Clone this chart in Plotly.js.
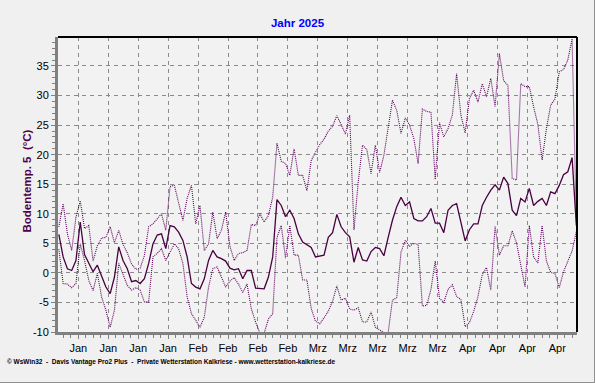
<!DOCTYPE html>
<html>
<head>
<meta charset="utf-8">
<script src="https://cdn.plot.ly/plotly-3.0.1.min.js"></script>
<style>
html,body{margin:0;padding:0;background:#f0f0f0;}
#wrap{position:relative;width:595px;height:383px;}
#chart{width:595px;height:383px;}
#frame{position:absolute;left:0;top:0;width:594px;height:382px;border-right:1px solid #909090;border-bottom:1px solid #909090;pointer-events:none;}
</style>
</head>
<body>
<div id="wrap"><div id="chart"></div><div id="frame"></div></div>
<script>
// Daily soil temperature at 5 cm, 1 Jan 2025 .. 2 May 2025
const startDate = '2025-01-01';
const meanTemp = [
 6.5, 2.7, 0.7, 0.4, 2.1, 8.6, 3.1, 1.6, 0.2, 1.3,
 -0.7, -2.4, -3.5, -0.7, 4.4, 2.1, 0.7, -1.5, -1.3, -1.8,
 -1.0, 1.6, 4.9, 6.4, 6.6, 4.1, 8.0, 7.8, 6.9, 5.5,
 2.7, -1.8, -2.4, -2.7, -1.0, 2.1, 3.8, 2.7, 2.4, 2.0,
 0.8, 0.5, 0.7, -1.0, 0.4, 0.4, -2.6, -2.7, -2.7, -0.7,
 2.7, 12.4, 11.4, 9.5, 10.6, 9.2, 6.6, 5.2, 4.7, 4.3,
 2.7, 2.9, 3.0, 6.0, 6.8, 9.9, 7.8, 6.8, 6.1, 1.8,
 4.3, 2.2, 2.0, 3.6, 4.3, 4.1, 2.9, 6.0, 8.9, 11.2,
 12.8, 11.4, 12.0, 9.2, 8.8, 8.8, 9.5, 10.9, 8.4, 8.4,
 6.8, 10.6, 11.4, 11.7, 8.6, 5.4, 7.3, 8.3, 8.3, 11.4,
 12.8, 14.0, 14.9, 14.0, 16.2, 15.1, 10.6, 9.7, 12.6, 12.0,
 14.3, 11.4, 12.1, 12.6, 11.4, 13.7, 13.4, 14.8, 16.6, 17.1,
 19.5, 8.0
];
const maxTemp = [
 7.8, 11.7, 6.6, 3.8, 9.4, 12.2, 7.5, 8.0, 2.0, 4.6,
 5.9, 6.0, 7.8, 5.1, 7.2, 4.8, 3.4, 1.5, 0.6, 0.8,
 2.9, 7.8, 8.3, 9.2, 10.0, 7.2, 14.6, 14.8, 11.7, 8.9,
 12.6, 14.8, 8.3, 11.4, 3.8, 4.9, 10.3, 5.8, 7.2, 10.3,
 4.5, 2.1, 3.3, 3.4, 3.8, 8.2, 8.0, 10.0, 8.6, 9.7,
 12.8, 21.9, 18.9, 18.5, 16.5, 21.0, 16.5, 16.5, 13.9, 19.0,
 20.4, 21.7, 22.6, 24.0, 24.8, 26.6, 25.1, 23.5, 26.7, 7.3,
 15.4, 21.6, 20.9, 16.8, 21.6, 17.0, 19.9, 24.7, 29.2, 27.5,
 23.6, 26.2, 25.0, 22.7, 18.5, 27.7, 27.3, 27.2, 15.8, 25.4,
 23.0, 24.4, 26.7, 33.7, 26.7, 23.7, 29.5, 30.9, 28.9, 32.0,
 29.8, 32.9, 28.1, 37.1, 32.5, 31.7, 16.0, 15.7, 32.0, 31.5,
 31.5, 28.1, 25.1, 19.1, 24.4, 28.4, 29.4, 34.0, 34.4, 36.0,
 39.6, 8.5
];
const minTemp = [
 4.0, -1.8, -1.9, -2.5, -1.8, 4.9, 2.1, -1.3, -3.0, -0.1,
 -4.1, -6.3, -9.2, -6.3, 1.6, -0.4, -2.1, -2.9, -2.5, -2.9,
 -4.9, -4.9, 2.7, 3.3, 4.1, 2.1, 3.5, 4.9, 4.1, 1.6,
 -4.1, -6.9, -8.0, -9.2, -7.5, -2.4, 0.7, 1.0, -0.7, -2.4,
 -1.4, -0.8, -1.9, -3.3, -1.9, -6.1, -8.3, -10.2, -10.2, -7.8,
 -6.9, 6.0, 8.0, 2.5, 8.0, 3.0, 3.0, -1.2, -1.2, -6.0,
 -8.2, -8.6, -7.6, -6.5, -4.8, -2.2, -4.6, -4.3, -6.1, -6.3,
 -5.9, -8.3, -8.3, -6.6, -9.2, -9.6, -10.1, -10.1, -4.6, -4.2,
 3.5, 5.5, 4.5, 5.0, 4.8, -5.6, -5.5, -2.8, 2.0, -4.3,
 -5.0, -2.8, -2.0, -4.0, -4.5, -9.1, -8.4, -6.5, -4.0, -0.3,
 0.9, -2.9, 7.9, 3.0, 4.6, 4.6, 7.1, 5.1, 1.5, -2.4,
 8.0, 2.7, 1.7, 8.0, 2.0, 0.1, -0.1, -2.5, 0.2, 1.8,
 3.7, 7.0
];
const tickDates = ['2025-01-06','2025-01-13','2025-01-20','2025-01-27','2025-02-03','2025-02-10','2025-02-17','2025-02-24','2025-03-03','2025-03-10','2025-03-17','2025-03-24','2025-03-31','2025-04-07','2025-04-14','2025-04-21','2025-04-28'];
const tickLabels = ['Jan','Jan','Jan','Jan','Feb','Feb','Feb','Feb','Mrz','Mrz','Mrz','Mrz','Mrz','Apr','Apr','Apr','Apr'];
const yTickVals = [-10,-5,0,5,10,15,20,25,30,35];
const yTickText = ['-10','-5','0','5','10','15','20','25','30','35'];

function dayStr(i){
  const p = startDate.split('-').map(Number);
  const d = new Date(Date.UTC(p[0], p[1]-1, p[2]+i));
  return d.toISOString().slice(0,10) + ' 10:48';
}
const days = meanTemp.map((_, i) => dayStr(i));

const FONT = 'Liberation Sans, Arial, sans-serif';
const traces = [
  {x: days, y: maxTemp, type: 'scatter', mode: 'lines', line: {color: '#5c005c', width: 1.1, dash: '1px,1px'}, hoverinfo: 'skip'},
  {x: days, y: minTemp, type: 'scatter', mode: 'lines', line: {color: '#5c005c', width: 1.1, dash: '1px,1px'}, hoverinfo: 'skip'},
  {x: days, y: meanTemp, type: 'scatter', mode: 'lines', line: {color: '#480040', width: 1.3}, hoverinfo: 'skip'}
];

const layout = {
  width: 595, height: 383,
  margin: {l: 58, r: 18, t: 37, b: 51, pad: 0},
  paper_bgcolor: '#f0f0f0',
  plot_bgcolor: '#f2f2f2',
  showlegend: false,
  title: {text: '<b>Jahr 2025</b>', font: {family: FONT, size: 11.5, color: '#0000ff'},
          x: 0.5, xref: 'container', xanchor: 'center', y: 1 - 23/383, yref: 'container', yanchor: 'middle'},
  xaxis: {
    type: 'date',
    range: ['2025-01-01 06:00', '2025-05-02 14:24'],
    tickmode: 'array', tickvals: tickDates, ticktext: tickLabels,
    showgrid: true, gridcolor: '#8a8a8a', gridwidth: 1, griddash: '4px,4px',
    ticks: 'outside', ticklen: 4, tickcolor: '#808080', tickwidth: 1,
    showline: true, linecolor: '#808080', linewidth: 3,
    zeroline: false,
    tickfont: {family: FONT, size: 11, color: '#000'},
    minor: {tick0: '2025-01-06', dtick: 151200000, ticks: 'outside', ticklen: 3, tickcolor: '#808080', showgrid: false},
    fixedrange: true
  },
  yaxis: {
    range: [-10, 39.9],
    tickmode: 'array', tickvals: yTickVals, ticktext: yTickText,
    showgrid: true, gridcolor: '#8a8a8a', gridwidth: 1, griddash: '4px,4px',
    ticks: 'outside', ticklen: 4, tickcolor: '#808080', tickwidth: 1,
    showline: true, linecolor: '#808080', linewidth: 3,
    zeroline: false,
    tickfont: {family: FONT, size: 11, color: '#000'},
    minor: {tick0: 0, dtick: 1, ticks: 'outside', ticklen: 3, tickcolor: '#808080', showgrid: false},
    fixedrange: true
  },
  shapes: [
    {type: 'line', xref: 'paper', yref: 'paper', x0: 0, x1: 1, y0: 1, y1: 1, line: {color: '#000', width: 2}},
    {type: 'line', xref: 'paper', yref: 'paper', x0: 1, x1: 1, y0: 0, y1: 1, line: {color: '#000', width: 2}}
  ],
  annotations: [
    {text: '<b>Bodentemp. 5\u00a0\u00a0(°C)</b>', xref: 'paper', yref: 'paper', x: -31/519, y: 0.51,
     textangle: -90, showarrow: false, xanchor: 'center', yanchor: 'middle',
     font: {family: FONT, size: 11.5, color: '#4b0048'}},
    {text: '<b>© WsWin32  -  Davis Vantage Pro2 Plus  -  Private Wetterstation Kalkriese - www.wetterstation-kalkriese.de</b>',
     xref: 'paper', yref: 'paper', x: -53/519, y: -30/295, showarrow: false, xanchor: 'left', yanchor: 'middle',
     font: {family: FONT, size: 6.5, color: '#000'}}
  ]
};

Plotly.newPlot('chart', traces, layout, {displayModeBar: false, staticPlot: true});
</script>
</body>
</html>
